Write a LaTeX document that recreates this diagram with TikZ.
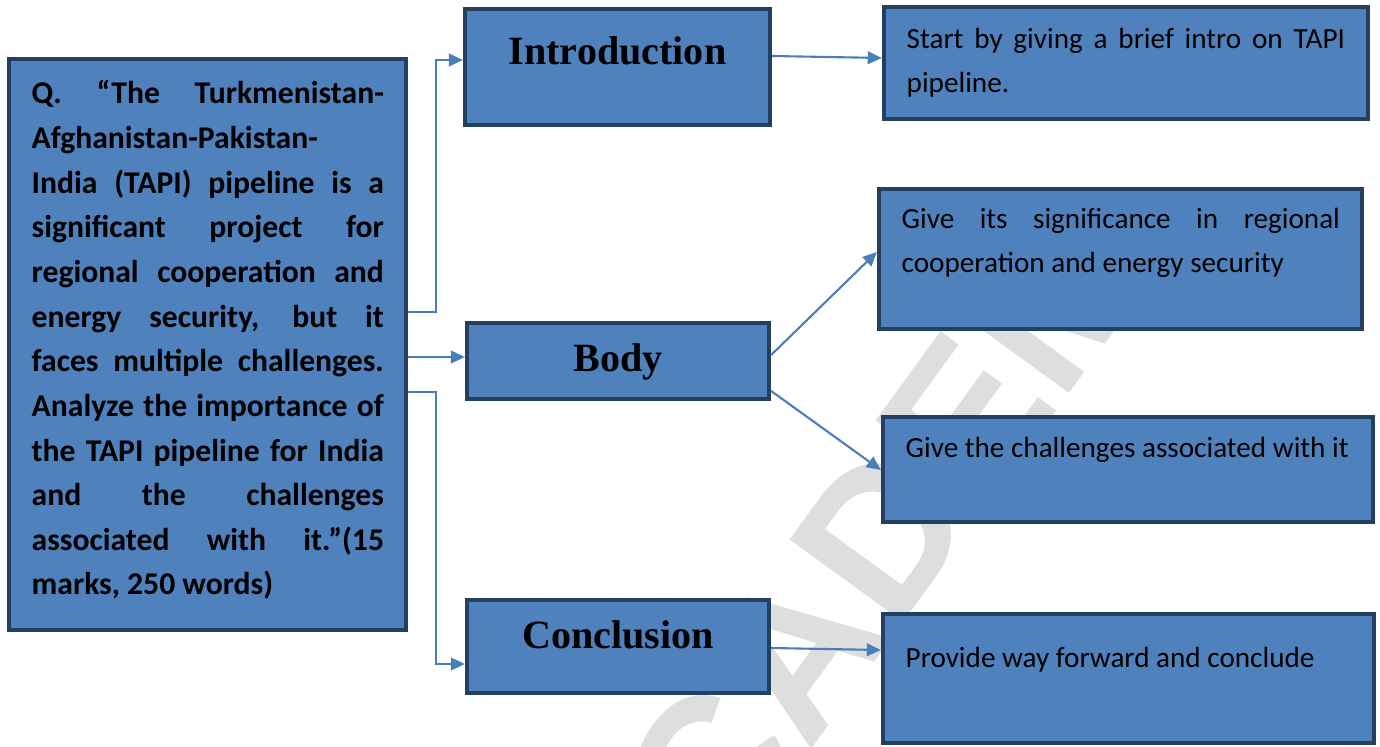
\documentclass[tikz,border=0pt]{standalone}
\usepackage{fontspec}
\setmainfont{Carlito}
\newfontfamily\headfont{Liberation Serif}
\newfontfamily\markfont{Liberation Sans}
\usetikzlibrary{arrows.meta}
\definecolor{boxfill}{HTML}{4F81BD}
\definecolor{boxline}{HTML}{243F60}
\definecolor{arrowblue}{HTML}{4A7EBB}
% one justified line of a given width
\newcommand{\jline}[2]{\makebox[#1][s]{\spaceskip=\fontdimen2\font plus 1fil\relax #2}}
\begin{document}
\begin{tikzpicture}[x=0.01cm, y=-0.01cm, >={Triangle[length=4pt,width=3.6pt]},
    box/.style={draw=boxline, fill=boxfill, line width=1.15pt, inner sep=0pt},
    conn/.style={->, draw=arrowblue, line width=0.6pt},
    head/.style={font=\headfont\bfseries\fontsize{11.4pt}{13pt}\selectfont, anchor=base, inner sep=0pt},
    note/.style={font=\fontsize{8.3pt}{12.23pt}\selectfont, anchor=base west, inner sep=0pt,
        text width=4.6cm, align=flush left}]
    \useasboundingbox (0,0) rectangle (1380,746);

    % --- watermark behind everything ---
    \node[rotate=54, text=black!13, font=\markfont\bfseries\fontsize{58pt}{60pt}\selectfont] (mark) at (842,588) {ACADEM};

    % --- question box ---
    \node[box, minimum width=3.97cm, minimum height=5.71cm] (q) at (207.5,344.5) {};
    \node[anchor=base west, inner sep=0pt, text width=3.52cm, align=flush left,
        font=\bfseries\fontsize{9pt}{12.69pt}\selectfont] (qtext) at (31,104) {%
        \jline{3.52cm}{Q. “The Turkmenistan-}\\
        Afghanistan-Pakistan-\\
        \jline{3.52cm}{India (TAPI) pipeline is a}\\
        \jline{3.52cm}{significant project for}\\
        \jline{3.52cm}{regional cooperation and}\\
        \jline{3.52cm}{energy security, but it}\\
        \jline{3.52cm}{faces multiple challenges.}\\
        \jline{3.52cm}{Analyze the importance of}\\
        \jline{3.52cm}{the TAPI pipeline for India}\\
        \jline{3.52cm}{and the challenges}\\
        \jline{3.52cm}{associated with it.”(15}\\
        marks, 250 words)};

    % --- middle column ---
    \node[box, minimum width=3.05cm, minimum height=1.16cm] (intro) at (617.5,67) {};
    \node[head] (introlbl) at (617.5,65) {Introduction};
    \node[box, minimum width=3.02cm, minimum height=0.76cm] (body) at (618,361) {};
    \node[head] (bodylbl) at (618,371) {Body};
    \node[box, minimum width=3.02cm, minimum height=0.93cm] (concl) at (618,646.5) {};
    \node[head] (concllbl) at (618,648) {Conclusion};

    % --- right column ---
    \node[box, minimum width=4.84cm, minimum height=1.12cm] (introtxt) at (1126,63) {};
    \node[note] (introtxtlbl) at (906,49) {\jline{4.38cm}{Start by giving a brief intro on TAPI}\\pipeline.};
    \node[box, minimum width=4.83cm, minimum height=1.40cm] (signif) at (1120.5,259) {};
    \node[note] (signiflbl) at (901,229) {\jline{4.38cm}{Give its significance in regional}\\cooperation and energy security};
    \node[box, minimum width=4.90cm, minimum height=1.05cm] (chall) at (1128,469.5) {};
    \node[note] (challlbl) at (905,457) {Give the challenges associated with it};
    \node[box, minimum width=4.91cm, minimum height=1.29cm] (concltxt) at (1128.5,678.5) {};
    \node[note] (concltxtlbl) at (905,667) {Provide way forward and conclude};

    % --- connectors ---
    \draw[conn] (q.east |- 0,312) -- ++(28,0) |- (intro.west |- 0,60);
    \draw[conn] (q.east |- 0,357) -- (body.west |- 0,357);
    \draw[conn] (q.east |- 0,392) -- ++(28,0) |- (concl.west |- 0,664);
    \draw[conn] (intro.east |- 0,56) -- (introtxt.west |- 0,58);
    \draw[conn] (body.east |- 0,355) -- (signif.west |- 0,252);
    \draw[conn] (body.east |- 0,391) -- (chall.west |- 0,470);
    \draw[conn] (concl.east |- 0,648) -- (concltxt.west |- 0,650);
\end{tikzpicture}
\end{document}
